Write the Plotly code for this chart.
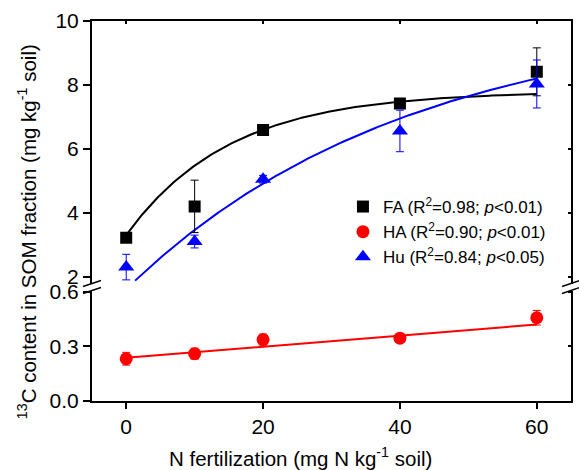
import numpy as np
import plotly.graph_objects as go

# ---- data ----
n_levels = [0, 10, 20, 40, 60]
fa_mean = [3.22, 4.20, 6.59, 7.42, 8.41]
fa_err = [0.10, 0.82, 0.10, 0.10, 0.75]
hu_mean = [2.30, 3.10, 5.05, 6.56, 8.03]
hu_err = [0.40, 0.20, 0.12, 0.65, 0.75]
ha_mean = [0.232, 0.260, 0.337, 0.345, 0.457]
ha_err = [0.035, 0.030, 0.030, 0.015, 0.040]

# fitted models (parameters)
fa_fit = dict(a=7.80, b=4.50, c=0.066, x0=0.0, x1=60.0)     # y = a - b*exp(-c x)
hu_fit = dict(a=10.20, b=8.59, c=0.0243, x0=1.3, x1=60.0)   # y = a - b*exp(-c x)
ha_fit = dict(intercept=0.237, slope=0.00305, x0=0.0, x1=60.0)  # linear

legend_names = [
    "FA (R<sup>2</sup>=0.98; <i>p</i>&lt;0.01)",
    "HA (R<sup>2</sup>=0.90; <i>p</i>&lt;0.01)",
    "Hu (R<sup>2</sup>=0.84; <i>p</i>&lt;0.05)",
]
x_ticks = [0, 20, 40, 60]
upper_ticks = [2, 4, 6, 8, 10]
lower_ticks = [0.0, 0.3, 0.6]
lower_ticktext = ["0.0", "0.3", "0.6"]

FONT = "Liberation Sans, Arial, sans-serif"
BLACK, RED, BLUE = "#000000", "#FF0000", "#0000FF"

# ---- geometry ----
W, H = 579, 470
ML, MR, MT, MB = 92, 6, 21, 69
PW, PH = W - ML - MR, H - MT - MB


def py(pix):  # pixel y -> paper
    return (H - MB - pix) / PH


def px(pix):
    return (pix - ML) / PW


lower_top_px, upper_bot_px = 290.5, 283.5
lower_dom = [0, py(lower_top_px)]
upper_dom = [py(upper_bot_px), 1]
lower_range = [0, 0.6065]
upper_range = [1.787, 10]
x_range = [-5, 65]


def exp_curve(p):
    xs = np.linspace(p["x0"], p["x1"], 200)
    return xs, p["a"] - p["b"] * np.exp(-p["c"] * xs)


fig = go.Figure()

xs, ys = exp_curve(fa_fit)
fig.add_trace(go.Scatter(x=xs, y=ys, mode="lines", line=dict(color=BLACK, width=2),
                         xaxis="x2", yaxis="y2", showlegend=False, hoverinfo="skip"))
xs, ys = exp_curve(hu_fit)
fig.add_trace(go.Scatter(x=xs, y=ys, mode="lines", line=dict(color=BLUE, width=2),
                         xaxis="x2", yaxis="y2", showlegend=False, hoverinfo="skip"))
xl = np.array([ha_fit["x0"], ha_fit["x1"]])
fig.add_trace(go.Scatter(x=xl, y=ha_fit["intercept"] + ha_fit["slope"] * xl, mode="lines",
                         line=dict(color=RED, width=2), xaxis="x", yaxis="y",
                         showlegend=False, hoverinfo="skip"))

fig.add_trace(go.Scatter(x=n_levels, y=fa_mean, mode="markers", name=legend_names[0],
                         marker=dict(symbol="square", size=12, color=BLACK),
                         error_y=dict(type="data", array=fa_err, color=BLACK, thickness=1, width=4),
                         xaxis="x2", yaxis="y2", legendgroup="a"))
fig.add_trace(go.Scatter(x=n_levels, y=ha_mean, mode="markers", name=legend_names[1],
                         marker=dict(symbol="circle", size=13, color=RED),
                         error_y=dict(type="data", array=ha_err, color=RED, thickness=1, width=4),
                         xaxis="x", yaxis="y", legendgroup="b"))
fig.add_trace(go.Scatter(x=n_levels, y=hu_mean, mode="markers", name=legend_names[2],
                         marker=dict(symbol="triangle-up", size=14, color=BLUE),
                         error_y=dict(type="data", array=hu_err, color=BLUE, thickness=1, width=4),
                         xaxis="x2", yaxis="y2", legendgroup="c"))

tickfont = dict(family=FONT, size=21, color="black")
common_axis = dict(showgrid=False, zeroline=False, linecolor="black", linewidth=2,
                   tickcolor="black", tickwidth=1.5)

fig.update_layout(
    width=W, height=H,
    margin=dict(l=ML, r=MR, t=MT, b=MB),
    paper_bgcolor="white", plot_bgcolor="white",
    font=dict(family=FONT, color="black"),
    xaxis=dict(**common_axis, domain=[0, 1], anchor="y", range=x_range,
               tickvals=x_ticks, ticks="outside", ticklen=6, showline=True,
               tickfont=tickfont),
    xaxis2=dict(**common_axis, domain=[0, 1], anchor="y2", side="top", range=x_range,
                tickvals=x_ticks, ticks="inside", ticklen=3, showline=True,
                showticklabels=False),
    yaxis=dict(**common_axis, domain=lower_dom, anchor="x", range=lower_range,
               tickvals=lower_ticks, ticktext=lower_ticktext, ticks="outside", ticklen=7,
               showline=True, mirror=True, tickfont=tickfont),
    yaxis2=dict(**common_axis, domain=upper_dom, anchor="x2", range=upper_range,
                tickvals=upper_ticks, ticks="outside", ticklen=7,
                showline=True, mirror=True, tickfont=tickfont),
    yaxis3=dict(**common_axis, overlaying="y", side="right", anchor="x", range=lower_range,
                tickvals=lower_ticks, ticks="inside", ticklen=3, showline=False,
                showticklabels=False),
    yaxis4=dict(**common_axis, overlaying="y2", side="right", anchor="x2", range=upper_range,
                tickvals=upper_ticks, ticks="inside", ticklen=3, showline=False,
                showticklabels=False),
    legend=dict(x=px(344), y=py(189), xanchor="left", yanchor="top",
                bgcolor="rgba(0,0,0,0)", borderwidth=0,
                font=dict(family=FONT, size=17, color="black"),
                tracegroupgap=0, traceorder="grouped"),
    showlegend=True,
)

# invisible traces to activate the right-side tick axes
fig.add_trace(go.Scatter(x=[None], y=[None], xaxis="x", yaxis="y3", showlegend=False))
fig.add_trace(go.Scatter(x=[None], y=[None], xaxis="x2", yaxis="y4", showlegend=False))

# axis titles
fig.add_annotation(text="<sup>13</sup>C content in SOM fraction (mg kg<sup>-1</sup> soil)",
                   xref="paper", yref="paper", x=px(27), y=py(232), textangle=-90,
                   showarrow=False, xanchor="center", yanchor="middle",
                   font=dict(family=FONT, size=20.5, color="black"))
fig.add_annotation(text="N fertilization (mg N kg<sup>-1</sup> soil)",
                   xref="paper", yref="paper", x=px(301), y=py(457),
                   showarrow=False, xanchor="center", yanchor="middle",
                   font=dict(family=FONT, size=20.5, color="black"))

# axis-break marks on left and right axes
for ax_px in (ML, W - MR):
    for yb in (upper_bot_px, lower_top_px):
        fig.add_shape(type="line", xref="paper", yref="paper",
                      x0=px(ax_px - 9), y0=py(yb + 3), x1=px(ax_px + 9), y1=py(yb - 3),
                      line=dict(color="black", width=1.5), layer="above")

fig.write_html("out.html", config={"displayModeBar": False},
               post_script="document.body.style.margin='0';document.body.style.padding='0';")
